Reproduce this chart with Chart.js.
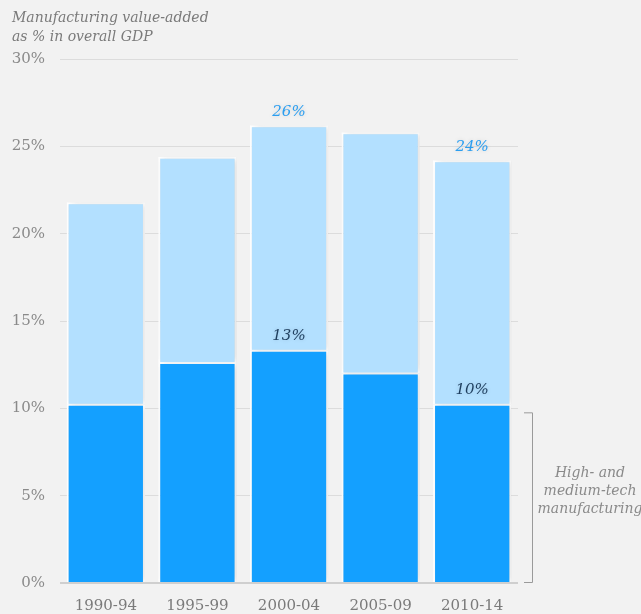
<!DOCTYPE html>
<html>
<head>
<meta charset="utf-8">
<script src="https://cdn.jsdelivr.net/npm/chart.js@4/dist/chart.umd.min.js"></script>
<style>
  html, body { margin: 0; padding: 0; background: #f2f2f2; }
  #wrap { width: 641px; height: 614px; position: relative; }
</style>
</head>
<body>
<div id="wrap"><canvas id="c"></canvas></div>
<script>
// Five-year periods on the category axis
const periods = ['1990-94', '1995-99', '2000-04', '2005-09', '2010-14'];
// High- and medium-tech manufacturing, % of GDP (lower segment)
const highMedTech = [10.2, 12.6, 13.3, 12.0, 10.2];
// Remaining manufacturing value-added, % of GDP (upper segment)
const otherMfg = [11.6, 11.8, 12.9, 13.8, 14.0];
// Y axis tick values
const yTicks = [0, 5, 10, 15, 20, 25, 30];
// Periods whose values are called out
const labelledPeriods = ['2000-04', '2010-14'];

const SERIF = '"DejaVu Serif", "Liberation Serif", serif';
const GREY = '#8a8a8a';

// Soft drop shadow behind the bars
const barShadow = {
  id: 'barShadow',
  beforeDatasetsDraw(chart) {
    const ctx = chart.ctx;
    ctx.save();
    ctx.shadowColor = 'rgba(0,0,0,0.12)';
    ctx.shadowBlur = 7;
    ctx.shadowOffsetX = 3;
    ctx.shadowOffsetY = 0;
  },
  afterDatasetsDraw(chart) {
    chart.ctx.restore();
  }
};

// Heading, value call-outs and the bracket annotation
const annotations = {
  id: 'annotations',
  afterDraw(chart) {
    const ctx = chart.ctx;
    const y = chart.scales.y;
    const area = chart.chartArea;
    ctx.save();

    // heading
    ctx.fillStyle = '#7a7a7a';
    ctx.font = 'italic 14px ' + SERIF;
    ctx.textAlign = 'left';
    ctx.textBaseline = 'middle';
    ctx.fillText('Manufacturing value-added', 12, 18);
    ctx.fillText('as % in overall GDP', 12, 37);

    // value call-outs
    const topMeta = chart.getDatasetMeta(1);
    const lowMeta = chart.getDatasetMeta(0);
    ctx.textAlign = 'center';
    ctx.font = 'italic 15px ' + SERIF;
    ctx.shadowColor = 'rgba(0,0,0,0.15)';
    ctx.shadowBlur = 4;
    labelledPeriods.forEach(p => {
      const i = periods.indexOf(p);
      const total = highMedTech[i] + otherMfg[i];
      const topBar = topMeta.data[i];
      const lowBar = lowMeta.data[i];
      ctx.fillStyle = '#2b9ef0';
      ctx.fillText(Math.round(total) + '%', topBar.x, topBar.y - 13);
      ctx.fillStyle = '#1e3e5e';
      ctx.fillText(Math.round(highMedTech[i]) + '%', lowBar.x, lowBar.y - 15);
    });
    ctx.shadowColor = 'transparent';
    ctx.shadowBlur = 0;

    // bracket for the lower segment
    const bx = area.right + 14;
    const yTop = y.getPixelForValue(10) + 4;
    const yBot = y.getPixelForValue(0);
    ctx.strokeStyle = '#9a9a9a';
    ctx.lineWidth = 1;
    ctx.beginPath();
    ctx.moveTo(bx - 8, yTop + 0.5);
    ctx.lineTo(bx + 0.5, yTop + 0.5);
    ctx.lineTo(bx + 0.5, yBot - 0.5);
    ctx.lineTo(bx - 8, yBot - 0.5);
    ctx.stroke();

    ctx.fillStyle = GREY;
    ctx.font = 'italic 14px ' + SERIF;
    ctx.textAlign = 'center';
    const cx = bx + 58;
    const cy = (yTop + yBot) / 2 - 6;
    ctx.fillText('High- and', cx, cy - 18);
    ctx.fillText('medium-tech', cx, cy);
    ctx.fillText('manufacturing', cx, cy + 18);

    ctx.restore();
  }
};

new Chart(document.getElementById('c'), {
  type: 'bar',
  data: {
    labels: periods,
    datasets: [
      {
        label: 'High- and medium-tech manufacturing',
        data: highMedTech,
        backgroundColor: '#14a0ff',
        borderColor: '#ffffff',
        borderWidth: { top: 1, left: 2, right: 2, bottom: 0 },
        borderSkipped: false
      },
      {
        label: 'Other manufacturing',
        data: otherMfg,
        backgroundColor: '#b3e0ff',
        borderColor: '#ffffff',
        borderWidth: { top: 2, left: 2, right: 2, bottom: 1 },
        borderSkipped: false
      }
    ]
  },
  options: {
    responsive: true,
    maintainAspectRatio: false,
    animation: false,
    events: [],
    layout: { padding: { top: 59, right: 123, left: 0, bottom: 0 } },
    datasets: { bar: { categoryPercentage: 1.0, barPercentage: 0.855 } },
    plugins: {
      legend: { display: false },
      tooltip: { enabled: false }
    },
    scales: {
      x: {
        stacked: true,
        grid: { display: false, drawTicks: false },
        border: { display: false },
        ticks: {
          color: '#7a7a7a',
          font: { family: SERIF, size: 15 },
          padding: 14,
          maxRotation: 0
        },
        afterFit(scale) { scale.height = 31; }
      },
      y: {
        stacked: true,
        min: 0,
        max: 30,
        afterBuildTicks(scale) { scale.ticks = yTicks.map(v => ({ value: v })); },
        border: { display: false },
        grid: {
          drawTicks: false,
          color: ctx => ctx.tick && ctx.tick.value === 0 ? '#cfcfcf' : '#dcdcdc',
          lineWidth: ctx => ctx.tick && ctx.tick.value === 0 ? 2 : 1
        },
        ticks: {
          color: GREY,
          font: { family: SERIF, size: 15 },
          padding: 15,
          callback: v => v + '%'
        },
        afterFit(scale) { scale.width = 60; }
      }
    }
  },
  plugins: [barShadow, annotations]
});
</script>
</body>
</html>
